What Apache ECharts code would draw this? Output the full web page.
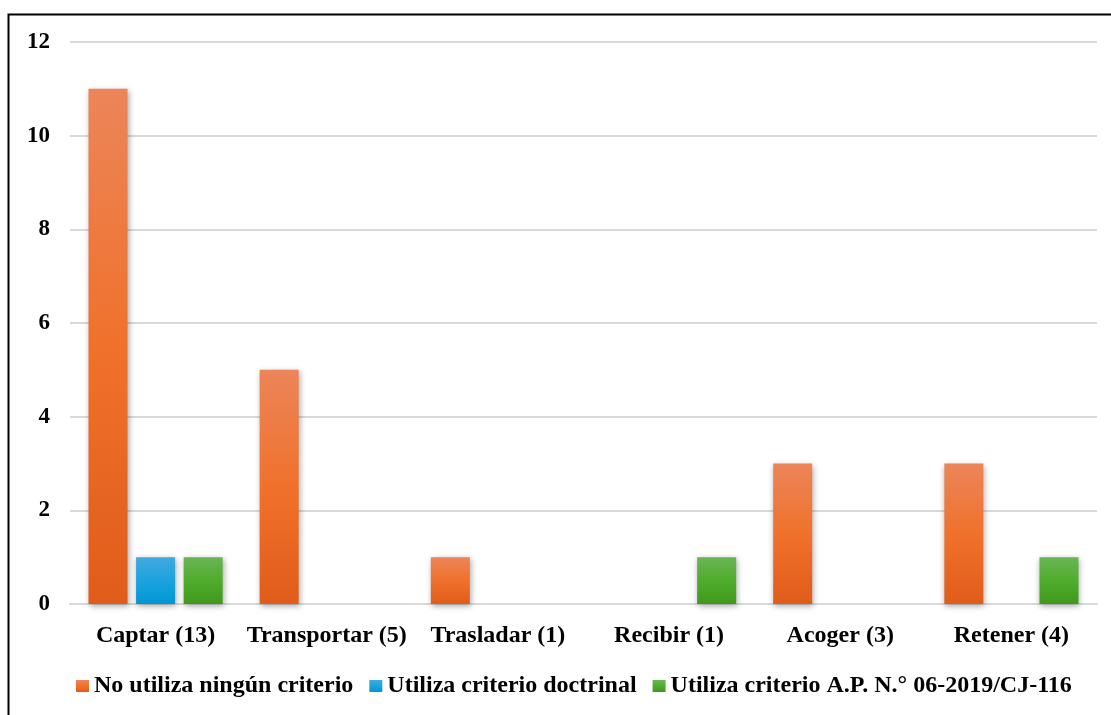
<!DOCTYPE html>
<html>
<head>
<meta charset="utf-8">
<script src="https://cdn.jsdelivr.net/npm/echarts@6/dist/echarts.min.js"></script>
<style>
  html, body { margin: 0; padding: 0; background: #ffffff; }
  #chart { width: 1111px; height: 715px; }
</style>
</head>
<body>
<div id="chart"></div>
<script>
// Categories (verb, with total cases in parentheses)
const categories = ['Captar (13)', 'Transportar (5)', 'Trasladar (1)', 'Recibir (1)', 'Acoger (3)', 'Retener (4)'];

// Series values per category
const seriesNames = ['No utiliza ningún criterio', 'Utiliza criterio doctrinal', 'Utiliza criterio A.P. N.° 06-2019/CJ-116'];
const noCriterio = [11, 5, 1, 0, 3, 3];
const criterioDoctrinal = [1, 0, 0, 0, 0, 0];
const criterioAP = [1, 0, 0, 1, 0, 1];

// Y axis ticks
const yTicks = [0, 2, 4, 6, 8, 10, 12];

const FONT = '"Liberation Serif", "Times New Roman", serif';

function grad(top, mid, bottom) {
  return new echarts.graphic.LinearGradient(0, 0, 0, 1, [
    { offset: 0, color: top },
    { offset: 0.5, color: mid },
    { offset: 1, color: bottom }
  ]);
}

const palettes = [
  ['#ec8559', '#f0712c', '#e05c1a'],
  ['#45a9e0', '#1ba3de', '#0096d4'],
  ['#6ab556', '#4fac2c', '#3f991c']
];
const solid = ['#ed7d31', '#1aa2dd', '#4eab2b'];

function barSeries(name, data, idx) {
  return {
    name: name,
    type: 'bar',
    data: data.map(v => v === 0 ? null : v),
    barWidth: 39,
    barGap: '22%',
    color: solid[idx],
    itemStyle: {
      color: grad(palettes[idx][0], palettes[idx][1], palettes[idx][2]),
      shadowColor: 'rgba(0,0,0,0.35)',
      shadowBlur: 6,
      shadowOffsetX: 1,
      shadowOffsetY: 2
    },
    emphasis: { disabled: true }
  };
}

const chart = echarts.init(document.getElementById('chart'), null, { renderer: 'canvas' });
chart.setOption({
  animation: false,
  backgroundColor: '#ffffff',
  textStyle: { fontFamily: FONT },
  graphic: [{
    type: 'rect',
    shape: { x: 8.5, y: 14.5, width: 1110, height: 710 },
    style: { fill: 'none', stroke: '#000000', lineWidth: 2 },
    silent: true,
    z: 100
  }],
  grid: { left: 70, right: 14, top: 42, bottom: 111, containLabel: false },
  legend: {
    bottom: 12,
    left: 71,
    padding: [5, 5, 5, 5],
    itemWidth: 13,
    itemHeight: 12,
    itemGap: 16,
    icon: 'rect',
    textStyle: { fontFamily: FONT, fontWeight: 'bold', fontSize: 24, color: '#000000' },
    data: seriesNames
  },
  xAxis: {
    type: 'category',
    data: categories,
    axisLine: { show: true, lineStyle: { color: '#d9d9d9', width: 2 } },
    axisTick: { show: false },
    axisLabel: { interval: 0, margin: 20, fontFamily: FONT, fontWeight: 'bold', fontSize: 24, color: '#000000' }
  },
  yAxis: {
    type: 'value',
    min: yTicks[0],
    max: yTicks[yTicks.length - 1],
    interval: 2,
    axisLine: { show: false },
    axisTick: { show: false },
    splitLine: { lineStyle: { color: '#d9d9d9', width: 2 } },
    axisLabel: { margin: 20, fontFamily: FONT, fontWeight: 'bold', fontSize: 23, color: '#000000' }
  },
  series: [
    barSeries(seriesNames[0], noCriterio, 0),
    barSeries(seriesNames[1], criterioDoctrinal, 1),
    barSeries(seriesNames[2], criterioAP, 2)
  ]
});
</script>
</body>
</html>
